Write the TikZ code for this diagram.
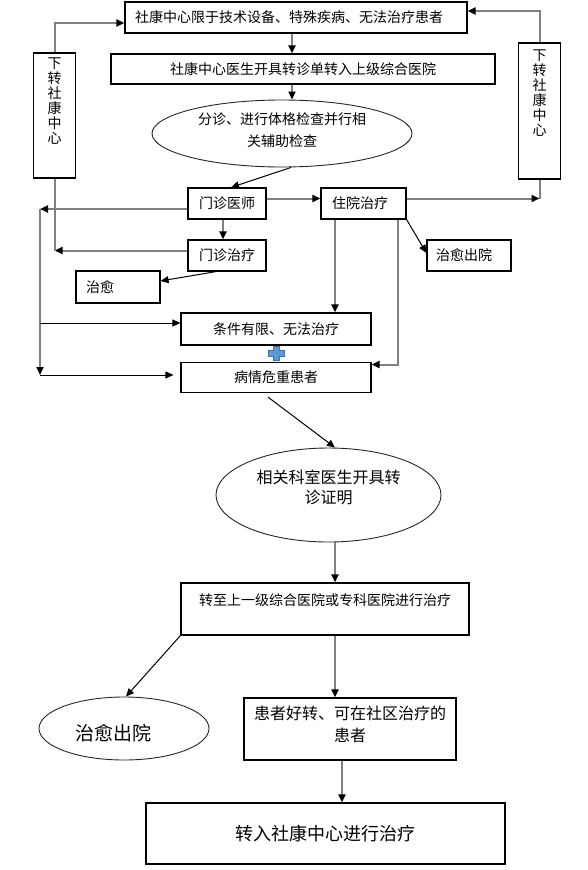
\documentclass[tikz,border=0pt]{standalone}
\usepackage{fontspec}
\setmainfont{Noto Sans CJK SC}
\usepackage{tikz}
\usetikzlibrary{arrows.meta, shapes.geometric}
\definecolor{lineGray}{RGB}{128,128,128}
\definecolor{plusFill}{RGB}{91,155,213}
\definecolor{plusEdge}{RGB}{65,113,156}
\tikzset{
    ->, % every connector gets a head
    >={Triangle[length=8pt, width=7pt, color=black]}, % solid black heads, also on the gray lines
    x=1pt, y=-1pt, % one unit is one pixel of the page, counted downwards
}

\begin{document}
\begin{tikzpicture}[
                                styleBox/.style={draw, line width=1.2pt, inner sep=0pt, font=\fontsize{14pt}{17pt}\selectfont},
                                styleUp/.style={styleBox, text width=14pt, align=center, font=\fontsize{14pt}{15pt}\selectfont},
                                styleOval/.style={ellipse, draw=black!85, line width=0.9pt, inner sep=0pt, align=center},
                                styleGray/.style={draw=lineGray, line width=2pt},
                                styleThin/.style={draw=black, line width=1pt},
                            ]
                            \useasboundingbox (0,0) rectangle (587,870);
                            \node[styleBox, minimum width=342pt, minimum height=31pt, text width=322pt, align=left] (top) at (296,17.5) {社康中心限于技术设备、特殊疾病、无法治疗患者};
                            \node[styleBox, minimum width=384pt, minimum height=30pt] (refer) at (303,69) {社康中心医生开具转诊单转入上级综合医院};
                            \node[styleOval, minimum width=260pt, minimum height=67pt, text width=180pt, text height=13pt, text depth=32pt, font=\fontsize{14pt}{22pt}\selectfont] (triage) at (282,133.5) {分诊、进行体格检查并行相\\关辅助检查};
                            \node[styleUp, minimum width=42pt, text height=15pt, text depth=110pt] (lDown) at (54.5,115.5) {下\\转\\社\\康\\中\\心};
                            \node[styleUp, minimum width=42pt, text height=17pt, text depth=119pt] (rDown) at (539.5,111) {下\\转\\社\\康\\中\\心};
                            \node[styleBox, minimum width=78pt, minimum height=31pt] (clinic) at (227,203.5) {门诊医师};
                            \node[styleBox, minimum width=85pt, minimum height=31pt, text width=63pt, align=left] (ward) at (363.5,203.5) {住院治疗};
                            \node[styleBox, minimum width=78pt, minimum height=31pt] (clinicTx) at (227,255.5) {门诊治疗};
                            \node[styleBox, minimum width=84pt, minimum height=32pt, text width=64pt, align=left] (cured) at (118,287) {治愈};
                            \node[styleBox, minimum width=84pt, minimum height=31pt, text width=66pt, align=left] (discharged) at (469,255.5) {治愈出院};
                            \node[styleBox, minimum width=190pt, minimum height=32pt] (limited) at (276,329) {条件有限、无法治疗};
                            \node[styleBox, minimum width=190pt, minimum height=30pt] (severe) at (276,377.5) {病情危重患者};
                            \node[styleOval, minimum width=225pt, minimum height=94pt, text width=150pt, text height=14pt, text depth=38pt, font=\fontsize{16pt}{20pt}\selectfont] (certify) at (328.5,495) {相关科室医生开具转\\诊证明};
                            \node[styleBox, minimum width=288pt, text height=22pt, text depth=30pt] (transfer) at (325,609) {转至上一级综合医院或专科医院进行治疗};
                            \node[styleOval, minimum width=170pt, minimum height=63pt, text width=98pt, align=left, text height=30pt, text depth=7pt, font=\fontsize{19pt}{22pt}\selectfont] (cured2) at (124,728.5) {治愈出院};
                            \node[styleBox, minimum width=212pt, text width=200pt, align=center, text height=21pt, text depth=41pt, font=\fontsize{16pt}{22pt}\selectfont] (improved) at (350,729) {患者好转、可在社区治疗的\\患者};
                            \node[styleBox, minimum width=359pt, minimum height=61pt, font=\fontsize{18pt}{22pt}\selectfont] (back) at (325.5,833.5) {转入社康中心进行治疗};
                            \coordinate (lTop) at (40,209);
                            \coordinate (lBot) at (40,375);
                            \coordinate (plus) at (276,353);
                            \draw[styleGray] ([xshift=-4pt]top.south) -- ([xshift=-4pt]top.south |- refer.north);
                            \draw[styleGray] ([xshift=-11pt]refer.south) -- ([xshift=-11pt]refer.south |- triage.north);
                            \draw[styleThin] ([xshift=9pt]triage.south) -- ([xshift=4pt]clinic.north);
                            \draw[styleGray] ([yshift=5pt]clinic.east) -- ([yshift=5pt]clinic.east -| ward.west);
                            \draw[styleGray] ([yshift=5pt]ward.east) -- ([yshift=5pt]ward.east -| rDown);
                            \draw[styleGray, -] ([yshift=5pt]ward.east -| rDown) -- (rDown.south);
                            \draw[styleGray] (rDown.north) |- ([yshift=6.5pt]top.east);
                            \draw[styleGray] ([yshift=5pt]clinicTx.west) -- ([yshift=5pt]clinicTx.west -| lDown);
                            \draw[styleGray, -] ([yshift=5pt]clinicTx.west -| lDown) -- (lDown.south);
                            \draw[styleGray] (lDown.north) |- ([yshift=-5.5pt]top.west);
                            \draw[styleGray] ([yshift=-5.5pt]clinic.west) -- (lTop);
                            \draw[styleGray] (lTop) -- (lBot);
                            \draw[styleThin] ([yshift=6pt]limited.west -| lTop) -- ([yshift=6pt]limited.west);
                            \draw[styleThin, shorten >=7pt] (lBot) -- (lBot -| severe.west);
                            \draw[styleGray] ([xshift=-4pt]clinic.south) -- ([xshift=-4pt]clinic.south |- clinicTx.north);
                            \draw[styleThin] ([xshift=-11pt]clinicTx.south) -- ([yshift=6pt]cured.east);
                            \draw[styleThin] (ward.south east) -- ([yshift=2.5pt]discharged.west);
                            \draw[styleGray] ([xshift=-28.5pt]ward.south) -- ([xshift=-28.5pt]ward.south |- limited.north);
                            \draw[styleGray] ([xshift=34.5pt]ward.south) |- ([yshift=13pt]severe.east);
                            \filldraw[fill=plusFill, draw=plusEdge, line width=0.8pt, -] ([shift={(-3,-7)}]plus) -- ++(6,0) -- ++(0,4) -- ++(5,0) -- ++(0,6) -- ++(-5,0) -- ++(0,4) -- ++(-6,0) -- ++(0,-4) -- ++(-5,0) -- ++(0,-6) -- ++(5,0) -- cycle;
                            \draw[styleThin] ([shift={(-8pt,-4pt)}]severe.south) -- ([xshift=6.5pt]certify.north);
                            \draw[styleGray] ([xshift=6.5pt]certify.south) -- ([xshift=6.5pt]certify.south |- transfer.north);
                            \draw[styleThin] (transfer.south west) -- ([xshift=2pt]cured2.north);
                            \draw[styleGray] ([xshift=10pt]transfer.south) -- ([xshift=10pt]transfer.south |- improved.north);
                            \draw[styleGray] ([xshift=-8pt]improved.south) -- ([xshift=-8pt]improved.south |- back.north);
                        \end{tikzpicture}
\end{document}
